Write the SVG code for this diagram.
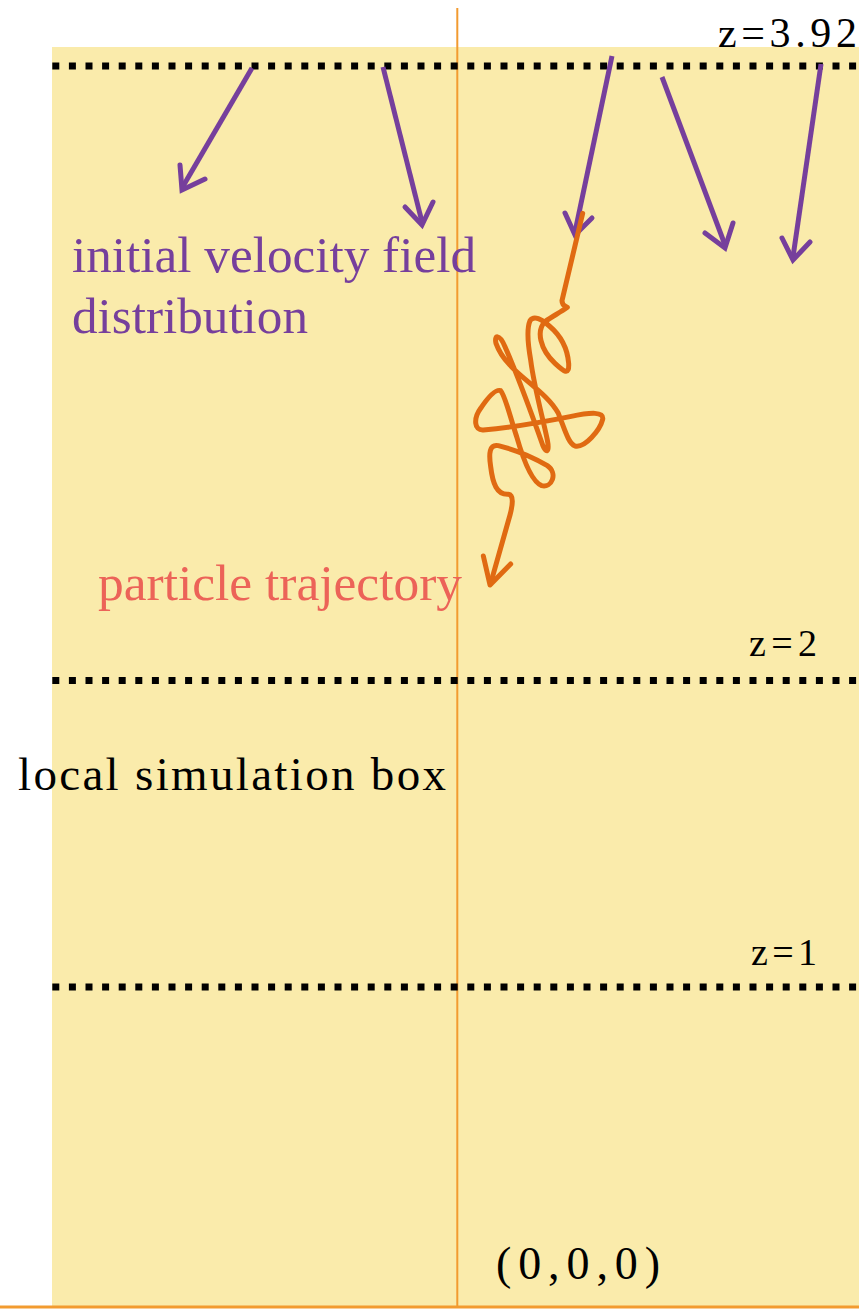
<svg xmlns="http://www.w3.org/2000/svg" width="859" height="1309" viewBox="0 0 859 1309">
<style>
.dots{stroke:#000;stroke-width:7;stroke-dasharray:7 9.6;fill:none}
.vel{stroke:#763f9c;stroke-width:5;fill:none}
.head{stroke:#763f9c;stroke-width:5;fill:none;stroke-linecap:round;stroke-linejoin:miter}
.traj{stroke:#e06a12;stroke-width:15;fill:none;stroke-linejoin:round;stroke-linecap:round}
.t{font-family:"Liberation Serif","Times New Roman",serif}
</style>
<rect id="box" x="52" y="47" width="807" height="1259" fill="#faebab"/>
<g id="axis">
<line x1="457.3" y1="8" x2="457.3" y2="1306" stroke="#f29b30" stroke-width="2"/>
<line x1="0" y1="1307" x2="859" y2="1307" stroke="#f29b30" stroke-width="3"/>
</g>
<g id="levels">
<line class="dots" x1="52.3" y1="66" x2="859" y2="66"/>
<line class="dots" x1="52.3" y1="680.5" x2="859" y2="680.5"/>
<line class="dots" x1="52.3" y1="987" x2="859" y2="987"/>
</g>
<g id="connectors">
<g id="velocity-arrows">
<line class="vel" x1="252" y1="68" x2="182" y2="188"/><polyline class="head" points="180,165 182,190 205,179"/>
<line class="vel" x1="383" y1="67" x2="422" y2="222"/><polyline class="head" points="405,207 422,225 433,202"/>
<line class="vel" x1="612" y1="56" x2="575" y2="232"/><polyline class="head" points="565,213 575,235 592,218"/>
<line class="vel" x1="662" y1="77" x2="725" y2="245"/><polyline class="head" points="705,233 725,248 733,223"/>
<line class="vel" x1="821" y1="64" x2="793" y2="257"/><polyline class="head" points="782,238 793,260 810,242"/>
</g>
<g id="trajectory" transform="translate(460 200) scale(0.33333)">
<path class="traj" d="M368,40 L306,302 C306,318 318,318 322,322 C300,338 275,350 255,365 C228,392 240,448 285,490 C312,515 328,528 326,490 C322,440 300,405 268,378 C245,358 222,345 210,362 C200,385 205,440 212,480 C222,560 250,660 262,720 C270,760 258,760 248,735 C225,670 170,520 135,440 C118,400 102,405 108,430 C140,520 250,560 295,640 C315,690 325,730 345,738 C375,745 420,690 428,658 C432,635 395,636 330,650 C240,668 140,684 70,690 C42,692 40,655 62,625 C80,598 105,565 122,572 C135,585 150,650 170,710 C190,780 215,845 245,857 C275,865 295,820 262,797 C220,772 160,748 115,737 C88,732 86,760 92,800 C98,850 110,885 145,883 C162,885 158,915 150,945 L92,1150"/>
<polyline class="traj" points="70,1068 90,1155 152,1092"/>
</g>
</g>
<g id="labels">
<text class="t" x="72" y="272" font-size="50" fill="#763f9c" textLength="404" lengthAdjust="spacingAndGlyphs">initial velocity field</text>
<text class="t" x="72" y="333" font-size="50" fill="#763f9c" textLength="236" lengthAdjust="spacingAndGlyphs">distribution</text>
<text class="t" x="98" y="600" font-size="50" fill="#ec6358" textLength="364" lengthAdjust="spacingAndGlyphs">particle trajectory</text>
<text class="t" x="18" y="790" font-size="47" fill="#000" textLength="428" lengthAdjust="spacing">local simulation box</text>
<text class="t" x="718" y="47" font-size="42" fill="#000" textLength="139" lengthAdjust="spacing">z=3.92</text>
<text class="t" x="749" y="656" font-size="38" fill="#000" textLength="68" lengthAdjust="spacing">z=2</text>
<text class="t" x="751" y="965" font-size="38" fill="#000" textLength="66" lengthAdjust="spacing">z=1</text>
<text class="t" x="496" y="1279" font-size="46" fill="#000" textLength="164" lengthAdjust="spacing">(0,0,0)</text>
</g>
</svg>
